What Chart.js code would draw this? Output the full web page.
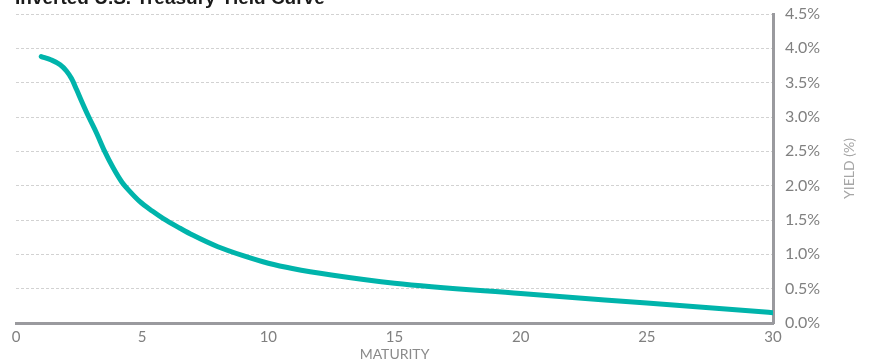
<!DOCTYPE html>
<html>
<head>
<meta charset="utf-8">
<script src="https://cdn.jsdelivr.net/npm/chart.js@4"></script>
<style>
  html, body { margin: 0; padding: 0; background: #ffffff; }
  #wrap { width: 869px; height: 362px; position: relative; }
</style>
</head>
<body>
<div id="wrap"><canvas id="chart" width="869" height="362"></canvas></div>
<script>
// Maturity in years and the yield (%) at each maturity
const maturities = [1, 1.4, 1.75, 2.0, 2.2, 2.4, 2.6, 2.87, 3.2, 3.5, 3.85, 4.2, 4.5, 4.9, 5.4, 5.84, 6.5, 7, 8, 9, 10, 11, 12.5, 15, 20, 25, 30];
const yields     = [3.88, 3.83, 3.76, 3.67, 3.56, 3.40, 3.23, 3.01, 2.76, 2.51, 2.26, 2.05, 1.92, 1.77, 1.63, 1.52, 1.38, 1.28, 1.11, 0.98, 0.87, 0.79, 0.70, 0.58, 0.43, 0.29, 0.15];

const xTicks = [0, 5, 10, 15, 20, 25, 30];
const yTicks = [0, 0.5, 1, 1.5, 2, 2.5, 3, 3.5, 4, 4.5];

const chartTitle = 'Inverted U.S. Treasury Yield Curve';
const xTitle = 'MATURITY';
const yTitle = 'YIELD (%)';

const points = maturities.map((m, i) => ({ x: m, y: yields[i] }));

// Heading and axis titles drawn directly on the canvas
const textPlugin = {
  id: 'chartTexts',
  afterDraw(chart) {
    const ctx = chart.ctx;
    const area = chart.chartArea;
    ctx.save();
    // heading along the top edge
    ctx.font = 'bold 19px "Liberation Sans", Arial, sans-serif';
    ctx.fillStyle = '#1a1a1a';
    ctx.textAlign = 'left';
    ctx.textBaseline = 'alphabetic';
    ctx.fillText(chartTitle, 15, 4);

    // x axis title, centred under the plot
    ctx.font = '14px Lato, sans-serif';
    ctx.fillStyle = '#8a8a8a';
    ctx.textAlign = 'center';
    ctx.textBaseline = 'middle';
    ctx.fillText(xTitle, (area.left + area.right) / 2, 354);

    // y axis title, reading upward on the right side
    ctx.translate(849, (area.top + area.bottom) / 2);
    ctx.rotate(-Math.PI / 2);
    ctx.font = '14px Lato, sans-serif';
    ctx.fillStyle = '#a6a6a6';
    ctx.fillText(yTitle, 0, 0);
    ctx.restore();
  }
};

new Chart(document.getElementById('chart'), {
  type: 'line',
  data: {
    datasets: [{
      data: points,
      borderColor: '#00b4ab',
      borderWidth: 5,
      borderCapStyle: 'round',
      borderJoinStyle: 'round',
      pointRadius: 0,
      fill: false,
      cubicInterpolationMode: 'monotone'
    }]
  },
  options: {
    responsive: false,
    animation: false,
    layout: { padding: { left: 16, top: 14, right: 0, bottom: 0 } },
    plugins: {
      legend: { display: false },
      tooltip: { enabled: false }
    },
    scales: {
      x: {
        type: 'linear',
        min: 0,
        max: 30,
        afterBuildTicks(axis) { axis.ticks = xTicks.map(v => ({ value: v })); },
        afterFit(axis) {
          axis.height = 39;
          axis.paddingLeft = 0;
          axis.paddingRight = 0;
        },
        grid: { display: false, drawTicks: false },
        border: { display: true, color: '#9a9a9e', width: 3 },
        ticks: {
          color: '#808080',
          font: { family: 'Lato', size: 15 },
          padding: 5,
          maxRotation: 0
        }
      },
      y: {
        position: 'right',
        min: 0,
        max: 4.5,
        afterBuildTicks(axis) { axis.ticks = yTicks.map(v => ({ value: v })); },
        afterFit(axis) {
          axis.width = 96;
          axis.paddingTop = 0;
          axis.paddingBottom = 0;
        },
        grid: {
          color: '#d2d2d2',
          lineWidth: 1,
          drawTicks: false
        },
        border: { display: true, color: '#9a9a9e', width: 3, dash: [3, 2] },
        ticks: {
          color: '#808080',
          font: { family: 'Lato', size: 16 },
          padding: 12,
          callback: v => v.toFixed(1) + '%'
        }
      }
    }
  },
  plugins: [textPlugin]
});
</script>
</body>
</html>
